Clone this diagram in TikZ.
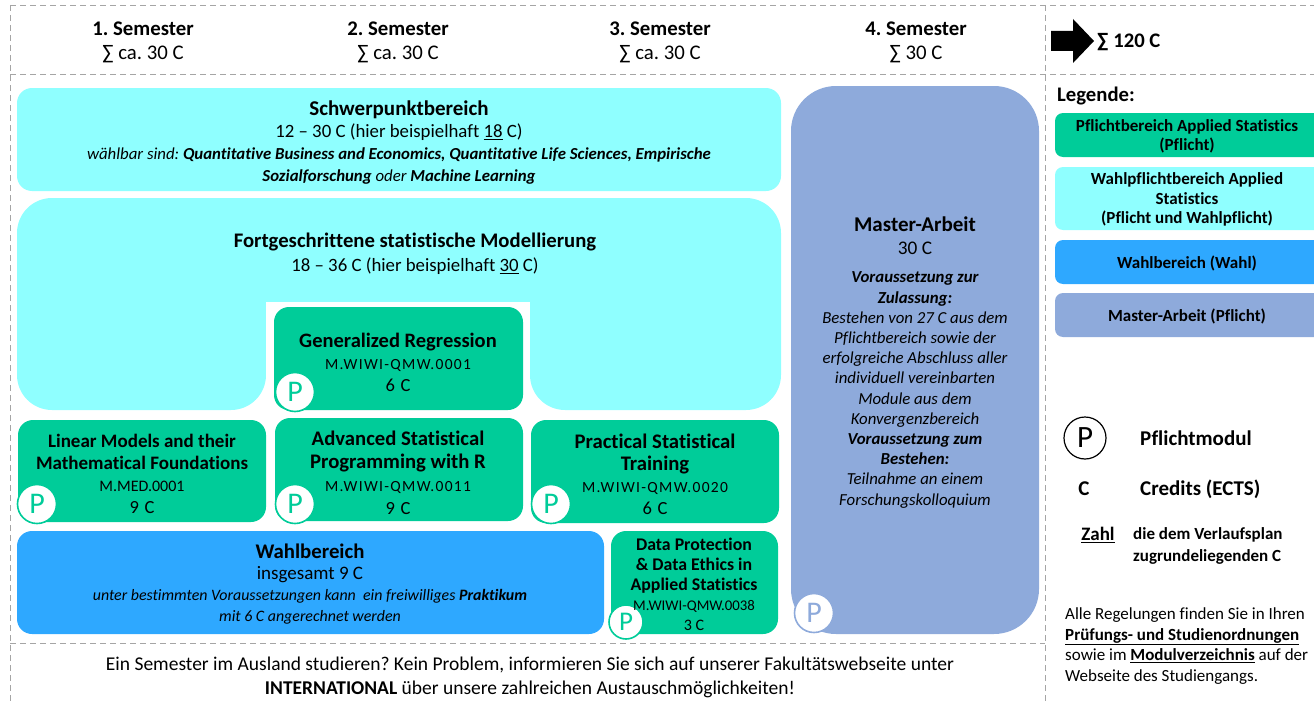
\documentclass[tikz,border=0pt]{standalone}
\usepackage{fontspec}
\setmainfont{Carlito}[Ligatures=NoCommon]
\usepackage{xcolor}
\usetikzlibrary{calc, positioning}
\definecolor{pflicht}{RGB}{0,204,153}
\definecolor{wahlpflicht}{RGB}{143,255,255}
\definecolor{wahl}{RGB}{46,168,255}
\definecolor{master}{RGB}{142,170,219}
\definecolor{rahmen}{RGB}{165,165,165}
\newcommand{\fs}[2]{\fontsize{#1}{#2}\selectfont}
\newcommand{\kennung}[1]{{\addfontfeature{LetterSpace=8.5}#1}}
\frenchspacing

\begin{document}
\begin{tikzpicture}[x=1pt, y=-1pt,
      rahmenlinie/.style={rahmen, dash pattern=on 6pt off 4pt, line width=0.9pt},
      modul/.style={fill=pflicht, rounded corners=15},
      legbox/.style={rounded corners=8},
      txt/.style={align=center, inner sep=0pt},
      pkreis/.style={circle, draw=pflicht, fill=white, line width=1.6pt, text=pflicht,
        minimum size=39pt, inner sep=0pt, font=\fs{30}{30}},
    ]
      \clip (0,0) rectangle (1314,701);
      \useasboundingbox (0,0) rectangle (1314,701);

      % Rahmen
      \draw[rahmenlinie] (10,5) -- (1314,5);
      \draw[rahmenlinie] (10,74) -- (1314,74);
      \draw[rahmenlinie] (10,5) -- (10,701);
      \draw[rahmenlinie] (1045,5) -- (1045,701);
      \draw[rahmenlinie] (10,643) -- (1045,643);

      % Kopfzeile
      \foreach \x/\n/\s in {143/1/ca. 30, 398/2/ca. 30, 660/3/ca. 30, 916/4/30}
        \node[txt, font=\fs{20.8}{24}] (sem\n) at (\x,42) {\textbf{\n. Semester}\\∑ \s{} C};
      \fill (1051,31) -- (1073,31) -- (1073,19) -- (1094,41) -- (1073,63) -- (1073,51) -- (1051,51) -- cycle;
      \node[txt, anchor=west, font=\bfseries\fs{20.7}{23}] (summe) at (1097,42) {∑ 120 C};

      % Wahlpflichtbereiche
      \fill[wahlpflicht, rounded corners=15] (17,88) rectangle (781,191);
      \node[txt, font=\fs{18.8}{22}] (schwerpunkt) at (399,143)
        {{\fs{21}{22}\bfseries Schwerpunktbereich}\\
         12 -- 30 C (hier beispielhaft \underline{18} C)\\
         {\fs{16.8}{22}\itshape wählbar sind: \textbf{Quantitative Business and Economics, Quantitative Life Sciences, Empirische}}\\
         {\fs{16.8}{22}\itshape\textbf{Sozialforschung} oder \textbf{Machine Learning}}};

      \fill[wahlpflicht, rounded corners=35] (17,300) -- (17,198) -- (781,198) -- (781,410)
        -- (530,410) -- (530,302) -- (266,302) -- (266,410) -- (17,410) -- cycle;
      \fill[white] (266,302) rectangle (530,411);
      \node[txt, font=\fs{18.8}{24}] (modellierung) at (415,254)
        {{\fs{20.7}{24}\bfseries Fortgeschrittene statistische Modellierung}\\
         18 -- 36 C (hier beispielhaft \underline{30} C)};

      % Pflichtmodule
      \fill[modul] (274,307) rectangle (523,410);
      \node[txt, font=\fs{15.5}{22}] (regression) at (398,362)
        {{\fs{20.5}{22}\bfseries Generalized Regression}\\\kennung{M.WIWI-QMW.0001}\\{\fs{18.5}{22}\kennung{6 C}}};
      \fill[modul] (18,420) rectangle (266,522);
      \node[txt, font=\fs{16}{22}] (linear) at (142,474)
        {{\fs{19}{22}\bfseries Linear Models and their}\\{\fs{19}{22}\bfseries Mathematical Foundations}\\
         M.MED.0001\\{\fs{18.5}{22}\kennung{9 C}}};
      \fill[modul] (275,418) rectangle (523,521);
      \node[txt, font=\fs{15.5}{23}] (programming) at (398,473)
        {{\fs{20.7}{23}\bfseries Advanced Statistical}\\{\fs{20.7}{23}\bfseries Programming with R}\\
         \kennung{M.WIWI-QMW.0011}\\{\fs{18.5}{22}\kennung{9 C}}};
      \fill[modul] (531,420) rectangle (779,523);
      \node[txt, font=\fs{15.5}{22}] (training) at (655,474)
        {{\fs{20.7}{22}\bfseries Practical Statistical}\\{\fs{20.7}{22}\bfseries Training}\\
         \kennung{M.WIWI-QMW.0020}\\{\fs{18.5}{22}\kennung{6 C}}};
      \fill[modul] (611,531) rectangle (778,634);

      % P-Kreise
      \foreach \x/\y/\n in {295/392/regression, 37/504/linear, 295/504/programming, 551/504/training}
        \node[pkreis] (p\n) at (\x,\y) {P};
      \node[pkreis, minimum size=34pt, font=\fs{27}{27}] (pethics) at (626,622) {P};

      \node[txt, font=\fs{14.8}{20}] (ethics) at (694,584)
        {{\fs{17.8}{20}\bfseries Data Protection}\\{\fs{17.8}{20}\bfseries \& Data Ethics in}\\
         {\fs{17.8}{20}\bfseries Applied Statistics}\\M.WIWI-QMW.0038\\{\fs{16}{20}3 C}};

      % Wahlbereich
      \fill[wahl, rounded corners=15] (17,531) rectangle (604,634);
      \node[txt, font=\fs{19}{21}] (wahlbereich) at (310,584)
        {{\fs{20.8}{21}\bfseries Wahlbereich}\\insgesamt 9 C\\
         {\fs{15.9}{19}\itshape unter bestimmten Voraussetzungen kann\ \ ein freiwilliges \textbf{Praktikum}}\\
         {\fs{15.9}{19}\itshape mit 6 C angerechnet werden}};

      % Master-Arbeit
      \fill[master, rounded corners=45] (791,86) rectangle (1039,634);
      \node[txt, font=\fs{19.3}{23}] (masterarbeit) at (915,236)
        {{\fs{21}{23}\bfseries Master-Arbeit}\\30 C};
      \node[txt, font=\itshape\fs{16.8}{20.2}] (zulassung) at (915,390)
        {\textbf{Voraussetzung zur}\\\textbf{Zulassung:}\\Bestehen von 27 C aus dem\\
         Pflichtbereich sowie der\\erfolgreiche Abschluss aller\\individuell vereinbarten\\
         Module aus dem\\Konvergenzbereich\\\textbf{Voraussetzung zum}\\\textbf{Bestehen:}\\
         Teilnahme an einem\\Forschungskolloquium};
      \node[pkreis, draw=master, text=master] (pmaster) at (814,613) {P};

      % Hinweis unten
      \node[txt, font=\fs{19.5}{24}] (ausland) at (530,677)
        {Ein Semester im Ausland studieren? Kein Problem, informieren Sie sich auf unserer Fakultätswebseite unter\\
         \textbf{INTERNATIONAL} über unsere zahlreichen Austauschmöglichkeiten!};

      % Legende
      \node[txt, anchor=west, font=\bfseries\fs{20.7}{22}] (legende) at (1057,96) {Legende:};
      \fill[pflicht, legbox] (1055,113) rectangle (1322,157);
      \node[txt, font=\bfseries\fs{17}{19}] (legpflicht) at (1187,136)
        {Pflichtbereich Applied Statistics\\(Pflicht)};
      \fill[wahlpflicht, legbox] (1055,167) rectangle (1322,230);
      \node[txt, font=\bfseries\fs{17}{19.5}] (legwahlpflicht) at (1187,199.5)
        {Wahlpflichtbereich Applied\\Statistics\\(Pflicht und Wahlpflicht)};
      \fill[wahl, legbox] (1055,240) rectangle (1322,284);
      \node[txt, font=\bfseries\fs{17}{19}] (legwahl) at (1187,263) {Wahlbereich (Wahl)};
      \fill[master, legbox] (1055,293) rectangle (1322,337);
      \node[txt, font=\bfseries\fs{17}{19}] (legmaster) at (1187,316) {Master-Arbeit (Pflicht)};

      \node[circle, draw, line width=1.2pt, minimum size=42pt, inner sep=0pt, font=\fs{31}{31}] (legp) at (1085,438) {P};
      \node[txt, anchor=west, font=\bfseries\fs{21}{22}] (pflichtmodul) at (1140,438) {Pflichtmodul};
      \node[txt, font=\bfseries\fs{21}{22}] (legc) at (1084,489) {C};
      \node[txt, anchor=west, font=\bfseries\fs{21}{22}] (credits) at (1140,489) {Credits (ECTS)};
      \node[txt, font=\bfseries\fs{19}{22}] (zahl) at (1098,535) {\underline{Zahl}};
      \node[txt, anchor=west, align=left, font=\bfseries\fs{17}{22}] (verlauf) at (1133,546)
        {die dem Verlaufsplan\\zugrundeliegenden C};
      \node[txt, anchor=west, align=left, font=\fs{17}{20.7}] (regelungen) at (1065,646)
        {Alle Regelungen finden Sie in Ihren\\\textbf{\underline{Prüfungs- und Studienordnungen}}\\
         sowie im \textbf{\underline{Modulverzeichnis}} auf der\\Webseite des Studiengangs.};
    \end{tikzpicture}
\end{document}
